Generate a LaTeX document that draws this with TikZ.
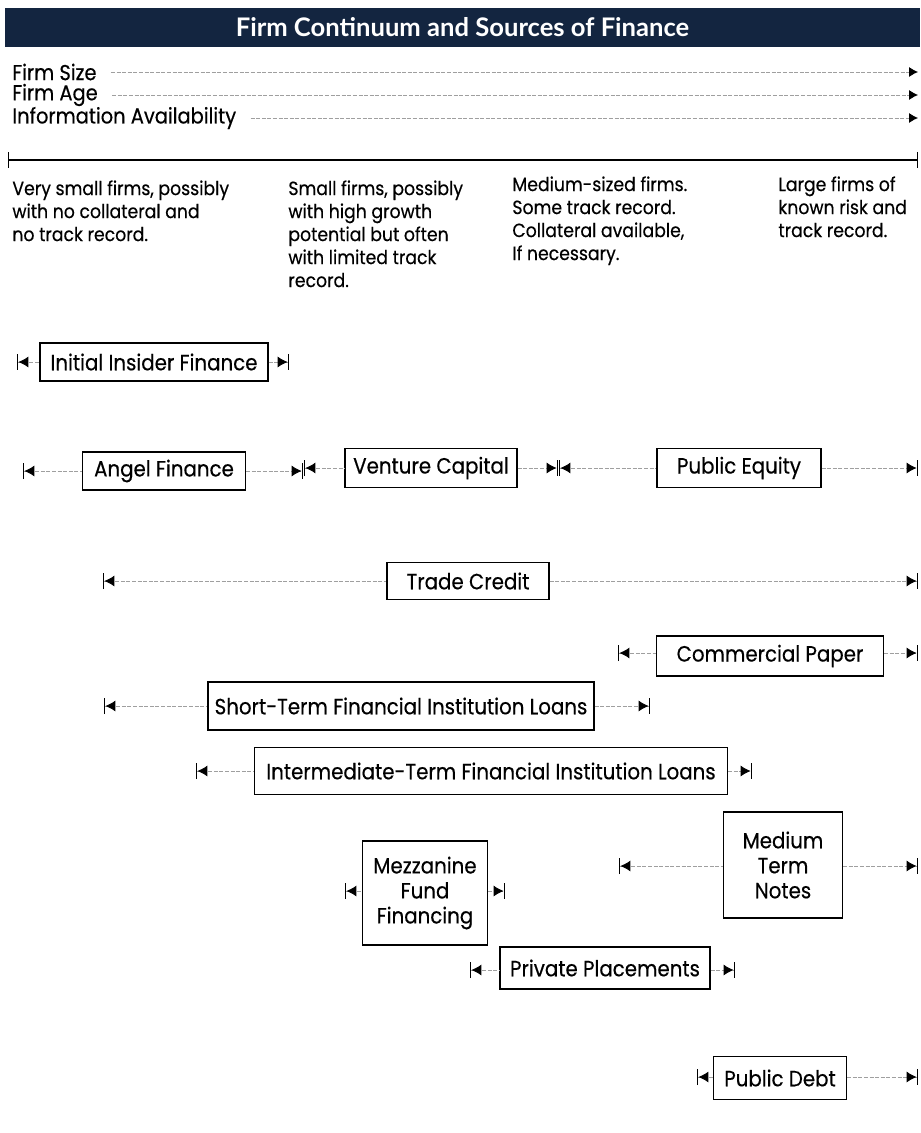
\documentclass[tikz,border=0pt]{standalone}
\usepackage{fontspec}
\setmainfont[FakeStretch=0.9,FakeBold=0.4]{Poppins}
\newfontfamily\titlefont{Lato}
\usetikzlibrary{arrows.meta,positioning}
\definecolor{navy}{RGB}{19,37,64}
\tikzset{
  mybox/.style = {rectangle, draw, line width=0.6pt, inner sep=1pt, align=center, font=\fontsize{11}{12.5}\selectfont},
  mydots/.style = {gray!75, line width=0.45pt, dash pattern=on 2pt off 0.8pt},
  myleft/.style = {mydots, {Bar[width=8pt,line width=0.7pt,color=black]Latex[length=5pt,width=5.5pt,color=black]}-},
  myright/.style = {mydots, -{Latex[length=5pt,width=5.5pt,color=black]Bar[width=8pt,line width=0.7pt,color=black]}},
  myaxis/.style = {mydots, shorten <=7pt, -{Latex[length=4.5pt,width=5pt,color=black]}},
  mylabel/.style = {anchor=west, inner sep=0pt, font=\fontsize{10.8}{12}\selectfont},
  mytext/.style = {anchor=north west, align=left, inner sep=0pt, font=\fontsize{9.6}{11.5}\selectfont},
}

\begin{document}
\begin{tikzpicture}[x=0.5pt,y=-0.5pt]
\useasboundingbox (0,0) rectangle (920,1133);
% title
\node[fill=navy, text=white, minimum width=457.5pt, minimum height=19.5pt, inner sep=0pt,
      font=\titlefont\bfseries\fontsize{12.8}{14}\selectfont] (title) at (462.5,27.5) {Firm Continuum and Sources of Finance};

% firm characteristics
\node[mylabel] (fsize) at (12,72) {Firm Size};
\node[mylabel] (fage) at (12,95) {Firm Age};
\node[mylabel] (finfo) at (12,118) {Information Availability};
\coordinate (fsize-r) at (918,72);
\coordinate (fage-r) at (918,95);
\coordinate (finfo-r) at (918,118);
\draw[myaxis] (fsize.east) -- (fsize-r);
\draw[myaxis] (fage.east) -- (fage-r);
\draw[myaxis] (finfo.east) -- (finfo-r);

% continuum line
\coordinate (scale-l) at (8,160);
\coordinate (scale-r) at (918,160);
\draw[line width=0.7pt, {Bar[width=8pt]}-{Bar[width=8pt]}] (scale-l) -- (scale-r);

\node[mytext] (stage1) at (12,180) {Very small firms, possibly\\with no collateral and\\no track record.};
\node[mytext] (stage2) at (288,180) {Small firms, possibly\\with high growth\\potential but often\\with limited track\\record.};
\node[mytext] (stage3) at (512,176) {Medium-sized firms.\\Some track record.\\Collateral available,\\If necessary.};
\node[mytext] (stage4) at (778,176) {Large firms of\\known risk and\\track record.};

% sources of finance
\node[mybox, minimum width=114pt, minimum height=19pt] (iif) at (154,362) {Initial Insider Finance};
\coordinate (iif-l) at (17,362);
\coordinate (iif-r) at (289,362);
\draw[myleft] (iif-l) -- (iif);
\draw[myright] (iif) -- (iif-r);

\node[mybox, minimum width=81.5pt, minimum height=19pt] (angel) at (164,471) {Angel Finance};
\coordinate (angel-l) at (23,471);
\coordinate (angel-r) at (303,471);
\draw[myleft] (angel-l) -- (angel);
\draw[myright] (angel) -- (angel-r);

\node[mybox, minimum width=86pt, minimum height=19.5pt] (vc) at (431,468) {Venture Capital};
\coordinate (vc-l) at (304,468);
\coordinate (vc-r) at (558,468);
\draw[myleft] (vc-l) -- (vc);
\draw[myright] (vc) -- (vc-r);

\node[mybox, minimum width=82pt, minimum height=19.5pt] (pe) at (739,468) {Public Equity};
\coordinate (pe-l) at (559,468);
\coordinate (pe-r) at (918,468);
\draw[myleft] (pe-l) -- (pe);
\draw[myright] (pe) -- (pe-r);

\node[mybox, minimum width=81pt, minimum height=18.5pt] (tc) at (468,581) {Trade Credit};
\coordinate (tc-l) at (103,581);
\coordinate (tc-r) at (918,581);
\draw[myleft] (tc-l) -- (tc);
\draw[myright] (tc) -- (tc-r);

\node[mybox, minimum width=113.5pt, minimum height=20pt] (cp) at (770,656) {Commercial Paper};
\coordinate (cp-l) at (618,653);
\coordinate (cp-r) at (918,653);
\draw[myleft] (cp-l) -- (cp.west |- cp-l);
\draw[myright] (cp.east |- cp-r) -- (cp-r);

\node[mybox, minimum width=193pt, minimum height=24pt] (stfil) at (401,706) {Short-Term Financial Institution Loans};
\coordinate (stfil-l) at (104,706);
\coordinate (stfil-r) at (650,706);
\draw[myleft] (stfil-l) -- (stfil);
\draw[myright] (stfil) -- (stfil-r);

\node[mybox, minimum width=236.5pt, minimum height=23.5pt] (itfil) at (491,771) {Intermediate-Term Financial Institution Loans};
\coordinate (itfil-l) at (196,771);
\coordinate (itfil-r) at (752,771);
\draw[myleft] (itfil-l) -- (itfil);
\draw[myright] (itfil) -- (itfil-r);

\node[mybox, minimum width=62.5pt, minimum height=52pt] (mezz) at (425,893) {Mezzanine\\Fund\\Financing};
\coordinate (mezz-l) at (345,891);
\coordinate (mezz-r) at (505,891);
\draw[myleft] (mezz-l) -- (mezz.west |- mezz-l);
\draw[myright] (mezz.east |- mezz-r) -- (mezz-r);

\node[mybox, minimum width=59.5pt, minimum height=53pt] (mtn) at (783,865) {Medium\\Term\\Notes};
\coordinate (mtn-l) at (619,866);
\coordinate (mtn-r) at (918,866);
\draw[myleft] (mtn-l) -- (mtn.west |- mtn-l);
\draw[myright] (mtn.east |- mtn-r) -- (mtn-r);

\node[mybox, minimum width=105pt, minimum height=21pt] (pp) at (605,968) {Private Placements};
\coordinate (pp-l) at (470,970);
\coordinate (pp-r) at (735,970);
\draw[myleft] (pp-l) -- (pp.west |- pp-l);
\draw[myright] (pp.east |- pp-r) -- (pp-r);

\node[mybox, minimum width=66.5pt, minimum height=21.5pt] (pd) at (780,1078) {Public Debt};
\coordinate (pd-l) at (697,1077);
\coordinate (pd-r) at (918,1077);
\draw[myleft] (pd-l) -- (pd.west |- pd-l);
\draw[myright] (pd.east |- pd-r) -- (pd-r);
\end{tikzpicture}
\end{document}
